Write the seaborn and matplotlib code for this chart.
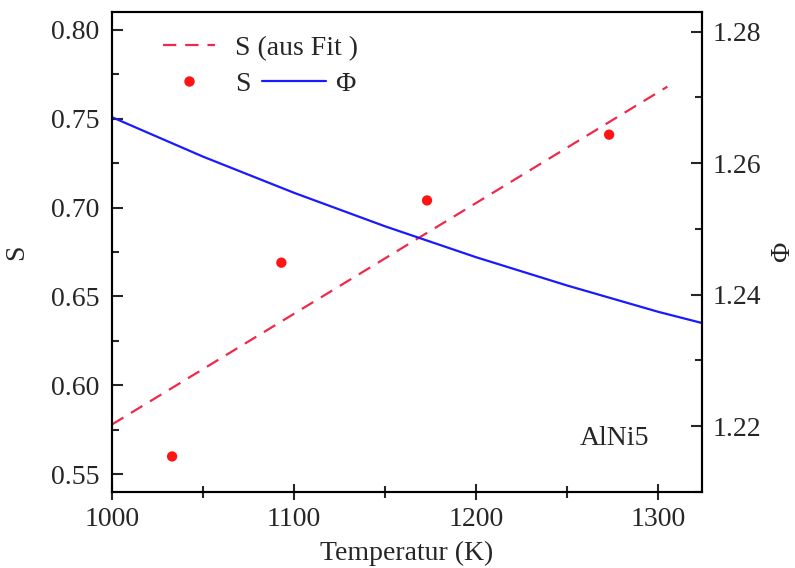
import matplotlib
matplotlib.use("Agg")
import matplotlib.pyplot as plt
import seaborn as sns
import pandas as pd
from matplotlib.lines import Line2D
from matplotlib.ticker import MultipleLocator

# data
temp_points = [1033, 1093, 1173, 1273]
s_points = [0.560, 0.669, 0.704, 0.741]
temp_fit = [1000, 1305]
s_fit = [0.578, 0.768]
temp_phi = [1000, 1050, 1100, 1150, 1200, 1250, 1300, 1324]
phi_vals = [1.2670, 1.2610, 1.2555, 1.2504, 1.2457, 1.2414, 1.2374, 1.2357]
x_ticks = [1000, 1100, 1200, 1300]
s_ticks = [0.55, 0.60, 0.65, 0.70, 0.75, 0.80]
phi_ticks = [1.22, 1.24, 1.26, 1.28]

sns.set_style("ticks")
plt.rcParams['font.family'] = ['Liberation Serif', 'DejaVu Serif']
FS = 20

fig = plt.figure(figsize=(7.95, 5.68), dpi=100)
ax = fig.add_axes([0.1409, 0.1338, 0.883 - 0.1409, 0.9789 - 0.1338])
ax2 = ax.twinx()

red_line = '#f0284a'
red_dot = '#ff1414'
blue = '#1a1aff'

df_fit = pd.DataFrame({'T': temp_fit, 'S': s_fit})
df_pts = pd.DataFrame({'T': temp_points, 'S': s_points})
df_phi = pd.DataFrame({'T': temp_phi, 'Phi': phi_vals})

sns.lineplot(data=df_fit, x='T', y='S', ax=ax, color=red_line, lw=1.6,
             dashes=False, legend=False)
ax.lines[-1].set_dashes((6, 4))
sns.scatterplot(data=df_pts, x='T', y='S', ax=ax, color=red_dot, s=55,
                edgecolor='none', legend=False, zorder=5)
sns.lineplot(data=df_phi, x='T', y='Phi', ax=ax2, color=blue, lw=1.6, legend=False)

ax.set_xlim(1000, 1324)
ax.set_ylim(0.540, 0.810)
ax2.set_ylim(1.210, 1.283)

ax.set_xticks(x_ticks)
ax.set_yticks(s_ticks)
ax2.set_yticks(phi_ticks)
ax.set_xticklabels([str(v) for v in x_ticks])
ax.set_yticklabels([f"{v:.2f}" for v in s_ticks])
ax2.set_yticklabels([f"{v:.2f}" for v in phi_ticks])
ax.xaxis.set_minor_locator(MultipleLocator(50))
ax.yaxis.set_minor_locator(MultipleLocator(0.025))
ax2.yaxis.set_minor_locator(MultipleLocator(0.01))

for a in (ax, ax2):
    for sp in a.spines.values():
        sp.set_visible(True)
        sp.set_linewidth(1.5)
        sp.set_color('black')
ax.tick_params(axis='x', which='major', direction='inout', length=12, width=1.5, labelsize=FS, pad=5)
ax.tick_params(axis='x', which='minor', direction='inout', length=8, width=1.5)
ax.tick_params(axis='y', which='major', direction='in', length=8, width=1.5, labelsize=FS, pad=9)
ax.tick_params(axis='y', which='minor', direction='in', length=5, width=1.5)
ax.tick_params(top=False, which='both')
ax2.tick_params(axis='y', which='major', direction='in', length=8, width=1.5, labelsize=FS, pad=8)
ax2.tick_params(axis='y', which='minor', direction='in', length=5, width=1.5)

ax.set_xlabel('Temperatur (K)', fontsize=FS, labelpad=6)
ax.set_ylabel('S', fontsize=FS, labelpad=16)
ax2.set_ylabel('Φ', fontsize=FS, labelpad=6)

ax.text(1257, 0.570, 'AlNi5', fontsize=FS, ha='left', va='center')

h_fit = Line2D([], [], color=red_line, lw=1.6, dashes=(6, 4))
h_dot = Line2D([], [], color=red_dot, lw=0, marker='o', markersize=7.5, markeredgewidth=0)
h_phi = Line2D([], [], color=blue, lw=1.6)

common = dict(loc='center left', frameon=False, fontsize=FS, borderpad=0,
              borderaxespad=0)
leg1 = ax.legend([h_fit], ['S (aus Fit )'], bbox_to_anchor=(0.0864, 0.925),
                 handlelength=1.87, handletextpad=0.72, **common)
ax.add_artist(leg1)
leg2 = ax.legend([h_dot], ['S'], bbox_to_anchor=(0.0864, 0.850),
                 handlelength=1.87, handletextpad=0.72, **common)
ax.add_artist(leg2)
leg3 = ax.legend([h_phi], ['Φ'], bbox_to_anchor=(0.254, 0.850),
                 handlelength=2.3, handletextpad=0.32, **common)

fig.savefig('out.png', dpi=100)
